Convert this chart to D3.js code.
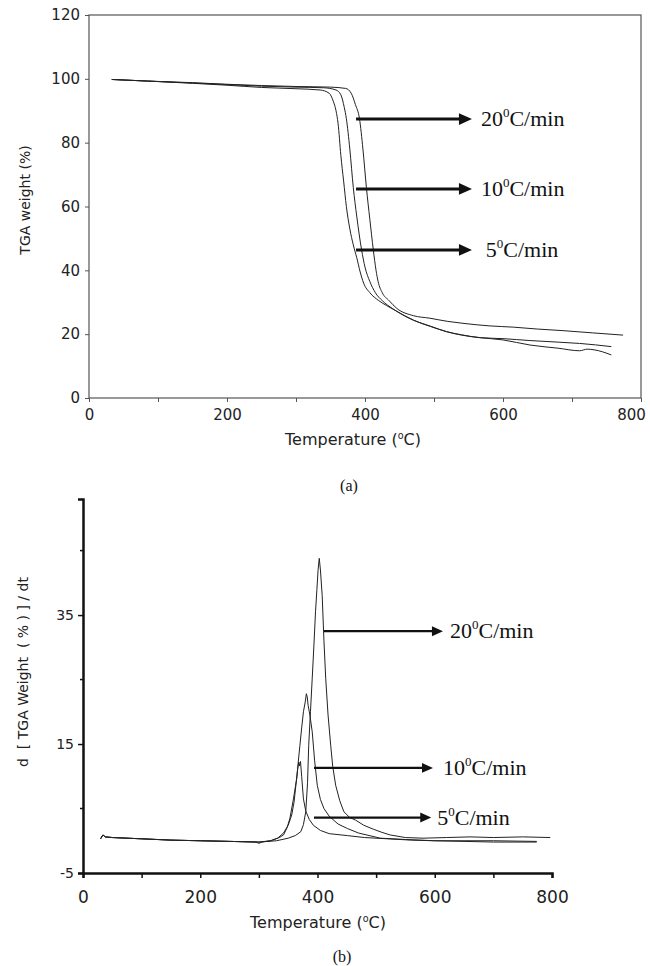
<!DOCTYPE html>
<html>
<head>
<meta charset="utf-8">
<script src="https://cdn.jsdelivr.net/npm/d3@7"></script>
<style>
body { margin: 0; background: #fff; }
svg { display: block; background: #fff; }
</style>
</head>
<body>
<svg id="canvas" width="650" height="966"></svg>
<script>
// ---- data: (a) TGA weight (%) vs temperature
var tga5 = [[33,99.8],[85,99.3],[150,98.6],[200,98.0],[250,97.3],[300,96.9],[335,96.5],[348,95.5],[354,93],[358,90],[361,86],[365,76],[369,68],[373,60],[378,53],[383,48],[388,44],[393,39.5],[398,36],[407,33],[420,30.5],[431,29],[445,27.3],[470,24.4],[495,22.4],[518,20.8],[540,19.7],[567,18.9],[600,18.2],[639,16.6],[680,15.6],[711,14.8],[722,15.3],[732,15.1],[757,13.5]];
var tga10 = [[33,99.8],[85,99.3],[150,98.7],[200,98.2],[250,97.7],[300,97.4],[340,97.2],[358,96.5],[365,95],[370,91],[373,87.5],[378,78],[383,66],[388,57],[395,46.5],[400,41],[407,36.5],[415,33],[425,30.5],[440,28],[455,26],[470,24.4],[495,22.5],[518,20.8],[540,19.8],[567,18.9],[600,18.6],[639,18],[680,17.5],[711,17.1],[757,16.1]];
var tga20 = [[33,99.8],[85,99.3],[150,98.8],[200,98.3],[250,97.9],[300,97.6],[350,97.4],[372,97],[380,95.5],[386,92],[392,87.5],[397,78],[402,66],[407,56],[412,46.5],[416,40],[419,36.5],[425,33],[435,30.5],[446,28.1],[470,25.8],[494,25],[520,24],[542,23.4],[580,22.6],[615,22.2],[650,21.6],[687,21.1],[730,20.4],[774,19.7]];

// ---- data: (b) derivative d[TGA weight (%)]/dt vs temperature
var dtg5 = [[30,0.3],[34,0.9],[38,0.6],[50,0.5],[100,0.3],[150,0.1],[200,0],[250,-0.1],[295,-0.2],[300,-0.4],[305,-0.2],[320,0],[332,0.4],[342,1.2],[350,2.4],[356,4],[360,6],[363,8.5],[366,11],[368,12.2],[369.5,11.6],[371,12.3],[373,10],[376,6.5],[380,4.6],[386,3.3],[393,2.4],[405,1.6],[420,1.1],[451,0.8],[480,0.5],[520,0.3],[560,0.1],[600,0],[650,-0.1],[700,-0.2],[774,-0.2]];
var dtg10 = [[30,0.3],[34,0.9],[38,0.6],[50,0.5],[100,0.3],[150,0.1],[200,0],[250,-0.1],[300,-0.2],[320,0],[335,0.5],[342,0.9],[348,2],[353,3.5],[359,6.5],[364.6,9.7],[368,13],[370,14.8],[373,17.5],[376,20],[379,21.5],[381,22.8],[382.5,22.3],[384,21],[387,19.5],[391,16.9],[395,12.5],[399.6,8.6],[405,6.4],[411,5],[420,3.8],[435,2.6],[451,1.9],[470,1.2],[507,0.4],[550,0.2],[600,0],[700,0],[774,-0.1]];
var dtg20 = [[30,0.3],[34,0.9],[38,0.6],[50,0.5],[100,0.3],[150,0.1],[200,0],[250,-0.1],[300,-0.2],[330,0],[350,0.4],[362,0.8],[371.5,1.4],[376,2.5],[380,4.5],[383,9],[385,14.8],[388,20],[391,25.2],[394,30.5],[396.6,35.5],[399,39],[401,42],[403,43.8],[405,42],[408,38],[411,31],[414,25.2],[418,19.5],[422.5,14.8],[426,11.5],[431,8.6],[438,6.2],[445,4.5],[455,3.6],[465,3.2],[479,2.4],[495,1.8],[510,1.3],[524,0.9],[550,0.5],[580,0.4],[620,0.5],[660,0.6],[700,0.5],[750,0.6],[797,0.5]];

// ---- ticks and annotation labels
var xTicks = [0, 100, 200, 300, 400, 500, 600, 700, 800];
var yTicksA = [0, 20, 40, 60, 80, 100, 120];
var yTicksB = [-5, 15, 35];
var yMinorB = [5, 25, 45];
var rateLabels = ["20", "10", "5"];
// arrow levels (data units) for each rate, in the order of rateLabels
var arrowYA = [87.4, 65.5, 46.4];
var arrowYB = [32.5, 11.3, 3.6];
var arrowFromB = [411, 394, 394];
var arrowToB = [614, 597, 594];

var svg = d3.select("#canvas");
var tickFont = "'DejaVu Sans', sans-serif";
var serif = "'Liberation Serif', 'Times New Roman', serif";

var line = d3.line()
  .x(function(d) { return x(d[0]); })
  .y(function(d) { return y(d[1]); });
var x, y;

// superscript helper: main + small raised "0" + rest
function rateText(sel, rate) {
  sel.append("tspan").text(rate);
  sel.append("tspan").attr("font-size", 13).attr("dy", -9).text("0");
  sel.append("tspan").attr("dy", 9).text("C/min");
}

function tempTitle(g, cx, cy, size) {
  var t = g.append("text")
    .attr("x", cx).attr("y", cy)
    .attr("text-anchor", "middle")
    .attr("font-family", tickFont)
    .attr("font-size", size)
    .attr("fill", "#222");
  t.append("tspan").text("Temperature (");
  t.append("tspan").attr("font-size", size * 0.6).attr("dy", -6).text("o");
  t.append("tspan").attr("dy", 6).text("C)");
}

function arrow(g, x0, x1, yy, w, head) {
  g.append("line")
    .attr("x1", x0).attr("x2", x1 - head + 1)
    .attr("y1", yy).attr("y2", yy)
    .attr("stroke", "#111").attr("stroke-width", w);
  g.append("path")
    .attr("d", "M" + (x1 - head) + "," + (yy - head * 0.45) + "L" + x1 + "," + yy + "L" + (x1 - head) + "," + (yy + head * 0.45) + "Z")
    .attr("fill", "#111");
}

// ================= (a) =================
var xA = d3.scaleLinear().domain([0, 800]).range([89, 641]);
var yA = d3.scaleLinear().domain([0, 120]).range([398, 15]);
var gA = svg.append("g");

gA.append("rect")
  .attr("x", xA(0)).attr("y", yA(120))
  .attr("width", xA(800) - xA(0)).attr("height", yA(0) - yA(120))
  .attr("fill", "none").attr("stroke", "#555").attr("stroke-width", 1.2);

var axA = gA.append("g")
  .attr("transform", "translate(0," + yA(0) + ")")
  .call(d3.axisBottom(xA).tickValues(xTicks).tickSize(4).tickPadding(7)
    .tickFormat(function(d) { return d % 200 ? "" : d; }))
  .attr("font-size", 15).attr("font-family", tickFont);
axA.select(".domain").remove();
// last label sits a bit inside the frame, as in the print
axA.selectAll(".tick text").filter(function(d) { return d == 800; }).attr("dx", -10);

var ayA = gA.append("g")
  .attr("transform", "translate(" + xA(0) + ",0)")
  .call(d3.axisLeft(yA).tickValues(yTicksA).tickSize(4).tickPadding(5))
  .attr("font-size", 15).attr("font-family", tickFont);
ayA.select(".domain").remove();
gA.selectAll(".tick line").attr("stroke", "#555");
gA.selectAll(".tick text").attr("fill", "#222");

gA.append("text")
  .attr("transform", "translate(25,200) rotate(-90)")
  .attr("text-anchor", "middle").attr("dy", "0.35em")
  .attr("font-family", tickFont).attr("font-size", 14).attr("fill", "#222")
  .text("TGA weight (%)");
tempTitle(gA, 353, 445, 16);

x = xA; y = yA;
line.curve(d3.curveMonotoneX);
[tga5, tga10, tga20].forEach(function(s) {
  gA.append("path").datum(s)
    .attr("d", line)
    .attr("fill", "none").attr("stroke", "#222").attr("stroke-width", 1);
});

rateLabels.forEach(function(r, i) {
  arrow(gA, xA(387), xA(555), yA(arrowYA[i]), 3, 13);
  var t = gA.append("text")
    .attr("x", xA(r == "5" ? 575 : 568)).attr("y", yA(arrowYA[i]) + 7)
    .attr("font-family", serif).attr("font-size", 22).attr("fill", "#111");
  rateText(t, r);
});

svg.append("text")
  .attr("x", 349).attr("y", 491)
  .attr("text-anchor", "middle")
  .attr("font-family", serif).attr("font-size", 16).attr("fill", "#111")
  .text("(a)");

// ================= (b) =================
var xB = d3.scaleLinear().domain([0, 800]).range([83, 552]);
var yB = d3.scaleLinear().domain([-5, 53]).range([873, 499]);
var gB = svg.append("g");

var axB = gB.append("g")
  .attr("transform", "translate(0," + yB(-5) + ")")
  .call(d3.axisBottom(xB).tickValues(xTicks).tickSize(5).tickPadding(13)
    .tickFormat(function(d) { return d % 200 ? "" : d; }))
  .attr("font-size", 17).attr("font-family", tickFont);
axB.select(".domain").attr("stroke-width", 2.5).attr("stroke", "#111");

var ayB = gB.append("g")
  .attr("transform", "translate(" + xB(0) + ",0)")
  .call(d3.axisLeft(yB).tickValues(yTicksB).tickSize(5).tickPadding(4)
    .tickFormat(function(d) { return String(d); }))
  .attr("font-size", 14).attr("font-family", tickFont);
ayB.select(".domain").attr("stroke-width", 2.5).attr("stroke", "#111");
gB.selectAll(".tick line").attr("stroke", "#111").attr("stroke-width", 1.5);
gB.selectAll(".tick text").attr("fill", "#222");

gB.selectAll(".minor").data(yMinorB).enter().append("line")
  .attr("class", "minor")
  .attr("x1", xB(0) - 3).attr("x2", xB(0))
  .attr("y1", function(d) { return yB(d); })
  .attr("y2", function(d) { return yB(d); })
  .attr("stroke", "#111").attr("stroke-width", 1.5);

gB.append("text")
  .attr("transform", "translate(23,672) rotate(-90)")
  .attr("text-anchor", "middle").attr("dy", "0.35em")
  .attr("font-family", tickFont).attr("font-size", 14).attr("fill", "#222")
  .attr("xml:space", "preserve")
  .text("d  [ TGA Weight  ( % ) ] / dt");
tempTitle(gB, 318, 928, 16);

x = xB; y = yB;
line.curve(d3.curveLinear);
[dtg5, dtg10, dtg20].forEach(function(s) {
  gB.append("path").datum(s)
    .attr("d", line)
    .attr("fill", "none").attr("stroke", "#222").attr("stroke-width", 1);
});

rateLabels.forEach(function(r, i) {
  arrow(gB, xB(arrowFromB[i]), xB(arrowToB[i]), yB(arrowYB[i]), 2.2, 11);
  var t = gB.append("text")
    .attr("x", xB(arrowToB[i]) + (r == "20" ? 7 : r == "10" ? 10 : 6))
    .attr("y", yB(arrowYB[i]) + 7)
    .attr("font-family", serif).attr("font-size", 22).attr("fill", "#111");
  rateText(t, r);
});

svg.append("text")
  .attr("x", 342).attr("y", 962)
  .attr("text-anchor", "middle")
  .attr("font-family", serif).attr("font-size", 16).attr("fill", "#111")
  .text("(b)");
</script>
</body>
</html>
